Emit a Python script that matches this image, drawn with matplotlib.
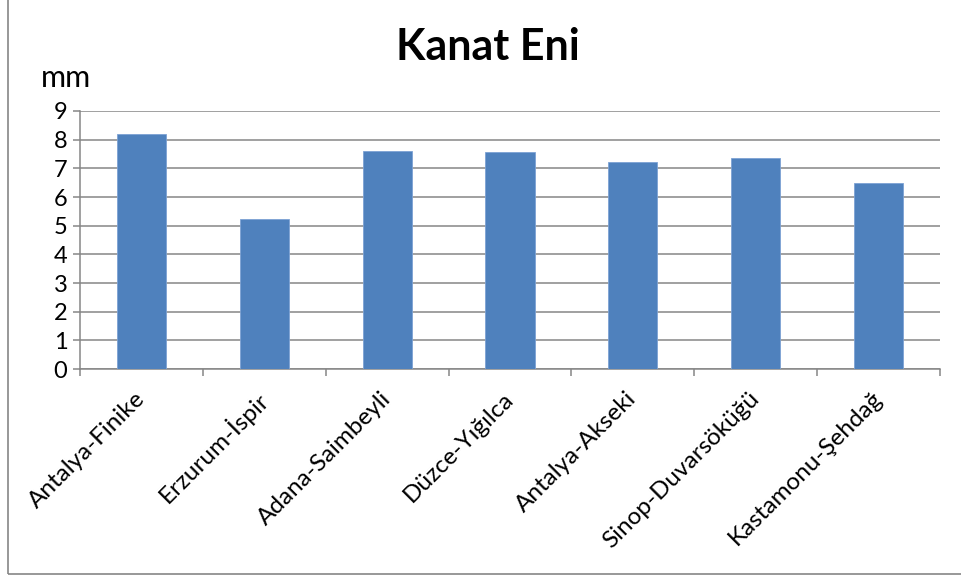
import matplotlib.pyplot as plt
import matplotlib.patches as patches
import numpy as np

regions = ["Antalya-Finike", "Erzurum-İspir", "Adana-Saimbeyli", "Düzce-Yığılca",
           "Antalya-Akseki", "Sinop-Duvarsöküğü", "Kastamonu-Şehdağ"]
wing_width = [8.20, 5.22, 7.59, 7.57, 7.21, 7.35, 6.48]
y_ticks = [0, 1, 2, 3, 4, 5, 6, 7, 8, 9]

plt.rcParams["font.family"] = ["Lato", "DejaVu Sans"]

fig = plt.figure(figsize=(9.61, 5.78), dpi=100)
ax = fig.add_axes([80 / 961, 1 - 369 / 578, 860 / 961, 258 / 578])

x = np.arange(len(regions))
ax.bar(x, wing_width, width=0.4, color="#4F81BD", edgecolor="#7DA2D4", linewidth=0.6, zorder=3)

ax.set_xlim(-0.5, len(regions) - 0.5)
ax.set_ylim(0, 9)
ax.set_yticks(y_ticks)
ax.set_yticklabels([str(v) for v in y_ticks], fontsize=17)
ax.grid(axis="y", color="#868686", linewidth=1.1, zorder=0)

ax.set_xticks(x)
ax.set_xticklabels(regions, rotation=45, ha="right", va="center",
                   rotation_mode="anchor", fontsize=17.5)
ax.set_xticks(np.arange(-0.5, len(regions)), minor=True)
ax.tick_params(axis="x", which="major", length=0, pad=19)
ax.tick_params(axis="x", which="minor", length=5, color="#868686", width=1.1)
ax.tick_params(axis="y", length=5, color="#868686", width=1.1, pad=4)

for side in ["top", "right"]:
    ax.spines[side].set_visible(False)
for side in ["left", "bottom"]:
    ax.spines[side].set_color("#868686")
    ax.spines[side].set_linewidth(1.1)

fig.text(488 / 961, 1 - 47 / 578, "Kanat Eni", ha="center", va="center",
         fontsize=31, fontweight="bold")
fig.text(41 / 961, 1 - 78 / 578, "mm", ha="left", va="center", fontsize=22)

fig.patches.append(patches.Rectangle((8 / 961, 4 / 578), 1.0, 1.0, transform=fig.transFigure,
                                     fill=False, edgecolor="#868686", linewidth=1.2))

fig.savefig("out.png", dpi=100)
